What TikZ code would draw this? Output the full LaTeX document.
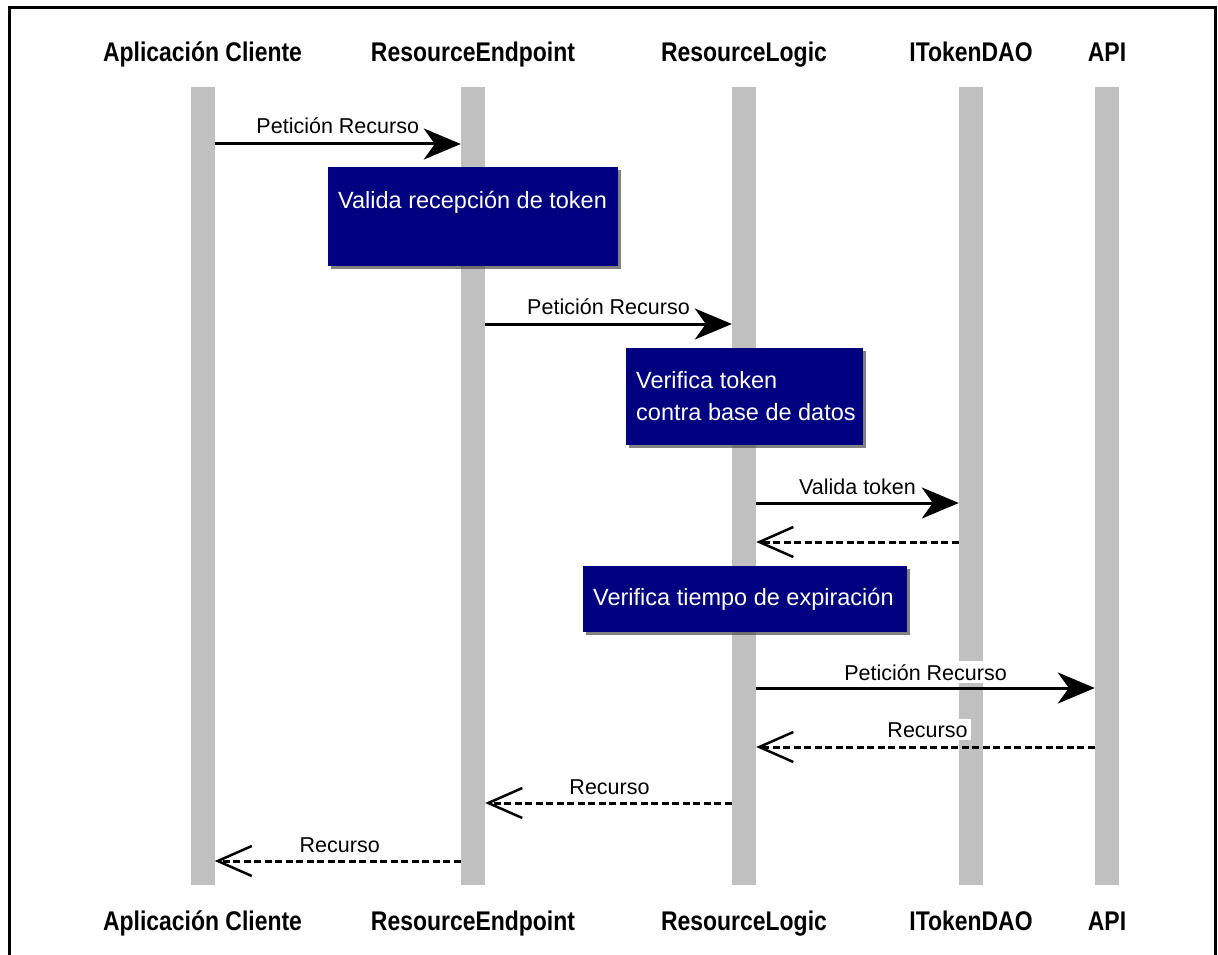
\documentclass[tikz,border=0pt]{standalone}
\usepackage{fontspec}
\setmainfont{Liberation Sans}
\newfontfamily\headfont{Liberation Sans}[FakeStretch=0.85]
\usetikzlibrary{arrows.meta,shadows,calc}
\definecolor{lifegray}{HTML}{C0C0C0}
\definecolor{notenavy}{HTML}{000080}
\tikzset{
  actor/.style={font=\headfont\bfseries\fontsize{27}{30}\selectfont, anchor=base, inner sep=0pt},
  lifeline/.style={fill=lifegray, draw=none, minimum width=24pt, minimum height=798pt, anchor=north, inner sep=0pt},
  msglabel/.style={font=\fontsize{21.5}{24}\selectfont, fill=white, inner sep=3pt, anchor=base},
  call/.style={line width=3pt, -{Stealth[length=37pt,width=31pt,inset=11pt]}},
  reply/.style={line width=3pt, dash pattern=on 7pt off 3.5pt, -{Straight Barb[length=34pt,width=30pt,line width=2.5pt]}},
  notebox/.style={fill=notenavy, draw=none, anchor=north west, inner sep=0pt,
    drop shadow={shadow xshift=3pt, shadow yshift=-3pt, opacity=0.7, fill=black!70}},
  notetext/.style={text=white, font=\fontsize{23.5}{32}\selectfont, anchor=base west, inner sep=0pt, align=left},
}
\begin{document}
\begin{tikzpicture}[x=1pt,y=-1pt]
\useasboundingbox (0,0) rectangle (1218,955);

% open frame
\draw[line width=3pt] (9,955) -- (9,8) -- (1215,8) -- (1215,955);

% participants, top and bottom
\foreach \n/\x/\t in {1/202.5/Aplicación Cliente, 2/473/ResourceEndpoint, 3/744/ResourceLogic, 4/971/ITokenDAO, 5/1107/API}{
  \node[actor] (A\n) at (\x,62) {\t};
  \node[actor] (B\n) at (\x,930) {\t};
  \node[lifeline] (L\n) at (\x,87) {};
}

% notes
\node[notebox, minimum width=290pt, minimum height=99pt] (n1) at (328,167) {};
\node[notetext] (n1t) at ([xshift=10pt,yshift=-41pt]n1.north west) {Valida recepción de token};
\node[notebox, minimum width=237pt, minimum height=97pt] (n2) at (626,348) {};
\node[notetext] (n2t) at ([xshift=10pt,yshift=-72pt]n2.north west) {Verifica token\\contra base de datos};
\node[notebox, minimum width=324pt, minimum height=66pt] (n3) at (583,566) {};
\node[notetext] (n3t) at ([xshift=10pt,yshift=-39pt]n3.north west) {Verifica tiempo de expiración};

% message rows
\coordinate (m1) at (0,144);
\coordinate (m2) at (0,324);
\coordinate (m3) at (0,503);
\coordinate (m4) at (0,542);
\coordinate (m5) at (0,688);
\coordinate (m6) at (0,747);
\coordinate (m7) at (0,803);
\coordinate (m8) at (0,861);

% labels, set just above their arrows
\node[msglabel] (t1) at ($(L1.east |- m1)!0.5!(L2.west |- m1) + (0,-10)$) {Petición Recurso};
\node[msglabel] (t2) at ($(L2.east |- m2)!0.5!(L3.west |- m2) + (0,-10)$) {Petición Recurso};
\node[msglabel] (t3) at ($(L3.east |- m3)!0.5!(L4.west |- m3) + (0,-9)$) {Valida token};
\node[msglabel] (t5) at ($(L3.east |- m5)!0.5!(L5.west |- m5) + (0,-8)$) {Petición Recurso};
\node[msglabel] (t6) at ($(L3.east |- m6)!0.5!(L5.west |- m6) + (2,-10)$) {Recurso};
\node[msglabel] (t7) at ($(L2.east |- m7)!0.5!(L3.west |- m7) + (1,-9)$) {Recurso};
\node[msglabel] (t8) at ($(L1.east |- m8)!0.5!(L2.west |- m8) + (2,-9)$) {Recurso};

% messages
\draw[call]  (L1.east |- m1) -- (L2.west |- m1);
\draw[call]  (L2.east |- m2) -- (L3.west |- m2);
\draw[call]  (L3.east |- m3) -- (L4.west |- m3);
\draw[reply] (L4.west |- m4) -- (L3.east |- m4);
\draw[call]  (L3.east |- m5) -- (L5.west |- m5);
\draw[reply] (L5.west |- m6) -- (L3.east |- m6);
\draw[reply] (L3.west |- m7) -- (L2.east |- m7);
\draw[reply] (L2.west |- m8) -- (L1.east |- m8);
\end{tikzpicture}
\end{document}
